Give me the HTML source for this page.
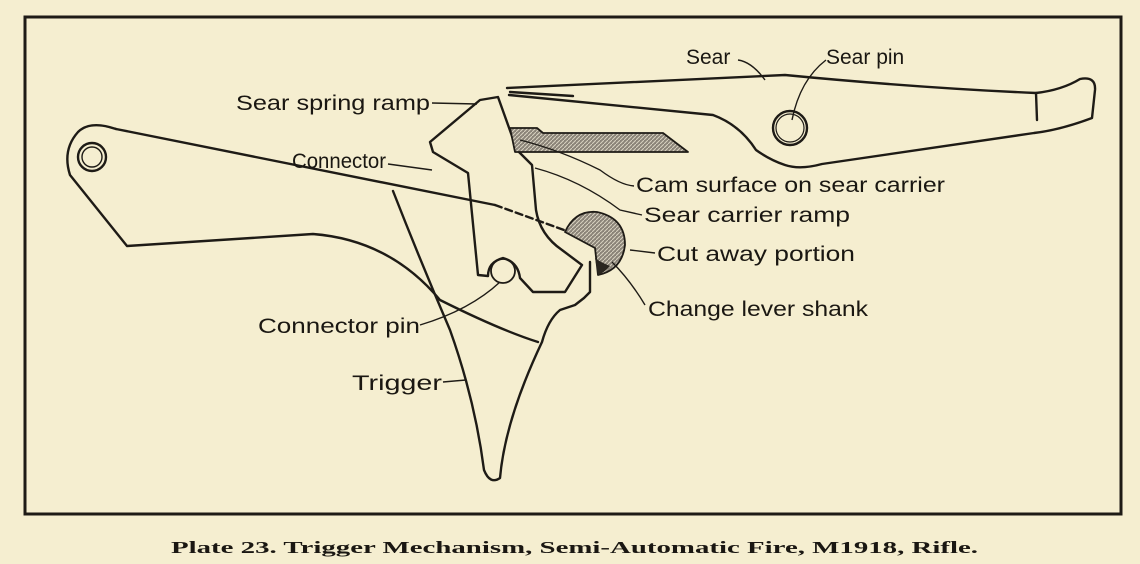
<!DOCTYPE html>
<html><head><meta charset="utf-8"><style>
html,body{margin:0;padding:0;background:#f5eed0;}
svg{display:block}
text{font-family:"Liberation Sans",sans-serif;fill:#1a1712;}
</style></head><body>
<svg width="1140" height="564" viewBox="0 0 1140 564" xmlns="http://www.w3.org/2000/svg">
<defs>
<pattern id="h" width="4" height="4" patternUnits="userSpaceOnUse">
<rect width="4" height="4" fill="#8a8378"/>
<path d="M0,4 L4,0" stroke="#d8d2c0" stroke-width="1"/>
</pattern>
</defs>
<rect x="0" y="0" width="1140" height="564" fill="#f5eed0"/>
<rect x="25" y="17" width="1096" height="497" fill="none" stroke="#1e1b16" stroke-width="3"/>
<g fill="none" stroke="#1e1b16" stroke-width="2.4" stroke-linejoin="round" stroke-linecap="round">
<!-- Sear -->
<path d="M507,88 L785,75 Q920,88 1036,93 Q1062,90 1080,79 Q1096,76 1095,90 L1092,118 Q1060,130 1034,133 L822,164 Q800,170 785,165 Q770,160 756,150 Q740,125 713,115 L509,95"/>
<path d="M1036,93 L1037,120"/>
<path d="M510,92 L573,96"/>
<circle cx="790" cy="128" r="17"/>
<circle cx="790" cy="128" r="14" stroke-width="1.2"/>
<!-- Trigger lever -->
<path d="M116,129 Q90,120 78,132 Q62,150 70,175 L127,246 L313,234 Q390,240 440,300 Q500,330 538,342"/>
<path d="M116,129 L495,205"/>
<path d="M495,205 L589,239" stroke-dasharray="7,4"/>
<circle cx="92" cy="157" r="14"/>
<circle cx="92" cy="157" r="10" stroke-width="1.4"/>
<!-- Trigger blade -->
<path d="M393,191 Q420,260 450,330 Q475,400 484,470 Q490,485 500,478 Q505,420 542,342 Q548,320 560,310 L575,305 L584,298 L590,292 L590,262"/>
<!-- Connector -->
<path d="M498,97 L480,100 L430,142 L433,152 L468,173 L478,275 L488,276 Q488,262 503,258 Q518,262 520,278 L533,292 L565,292 L582,265 L562,250 Q540,235 536,210 L532,165 L517,150 Z"/>
<circle cx="503" cy="271" r="12" stroke-width="1.8"/>
<!-- cut-away piece -->
<path d="M565,232 Q575,210 597,212 Q625,218 625,245 Q622,270 598,275 L595,248 Z" fill="url(#h)" stroke-width="1.8"/>
<path d="M595,258 L598,275 Q605,272 610,266 Q600,262 595,258 Z" fill="#2a2620" stroke="none"/>
<!-- Hatched bar -->
<path d="M510,128 L537,128 L543,133 L663,133 L688,152 L515,152 Z" fill="url(#h)" stroke-width="1.8"/>
</g>
<!-- leaders -->
<g fill="none" stroke="#1e1b16" stroke-width="1.4">
<path d="M738,60 Q752,62 765,80"/>
<path d="M826,60 Q800,80 792,120"/>
<path d="M432,103 L477,104"/>
<path d="M388,164 L432,170"/>
<path d="M520,140 Q560,150 600,170 Q620,185 634,186"/>
<path d="M535,168 Q580,180 620,210 L642,215"/>
<path d="M630,250 L655,253"/>
<path d="M612,262 Q630,280 645,305"/>
<path d="M420,325 Q470,310 500,282"/>
<path d="M443,382 L466,380"/>
</g>
<g font-size="21">
<text x="686" y="64">Sear</text>
<text x="826" y="64">Sear pin</text>
<text x="236" y="110" textLength="194" lengthAdjust="spacingAndGlyphs">Sear spring ramp</text>
<text x="292" y="168" textLength="94" lengthAdjust="spacingAndGlyphs">Connector</text>
<text x="636" y="192" textLength="309" lengthAdjust="spacingAndGlyphs">Cam surface on sear carrier</text>
<text x="644" y="222" textLength="206" lengthAdjust="spacingAndGlyphs">Sear carrier ramp</text>
<text x="657" y="261" textLength="198" lengthAdjust="spacingAndGlyphs">Cut away portion</text>
<text x="648" y="316" textLength="220" lengthAdjust="spacingAndGlyphs">Change lever shank</text>
<text x="258" y="333" textLength="162" lengthAdjust="spacingAndGlyphs">Connector pin</text>
<text x="352" y="390" textLength="90" lengthAdjust="spacingAndGlyphs">Trigger</text>
</g>
<text x="171" y="553" font-size="17" font-weight="bold" style="font-family:'Liberation Serif',serif" textLength="807" lengthAdjust="spacingAndGlyphs">Plate 23.  Trigger Mechanism, Semi-Automatic Fire, M1918, Rifle.</text>
</svg>
</body></html>
